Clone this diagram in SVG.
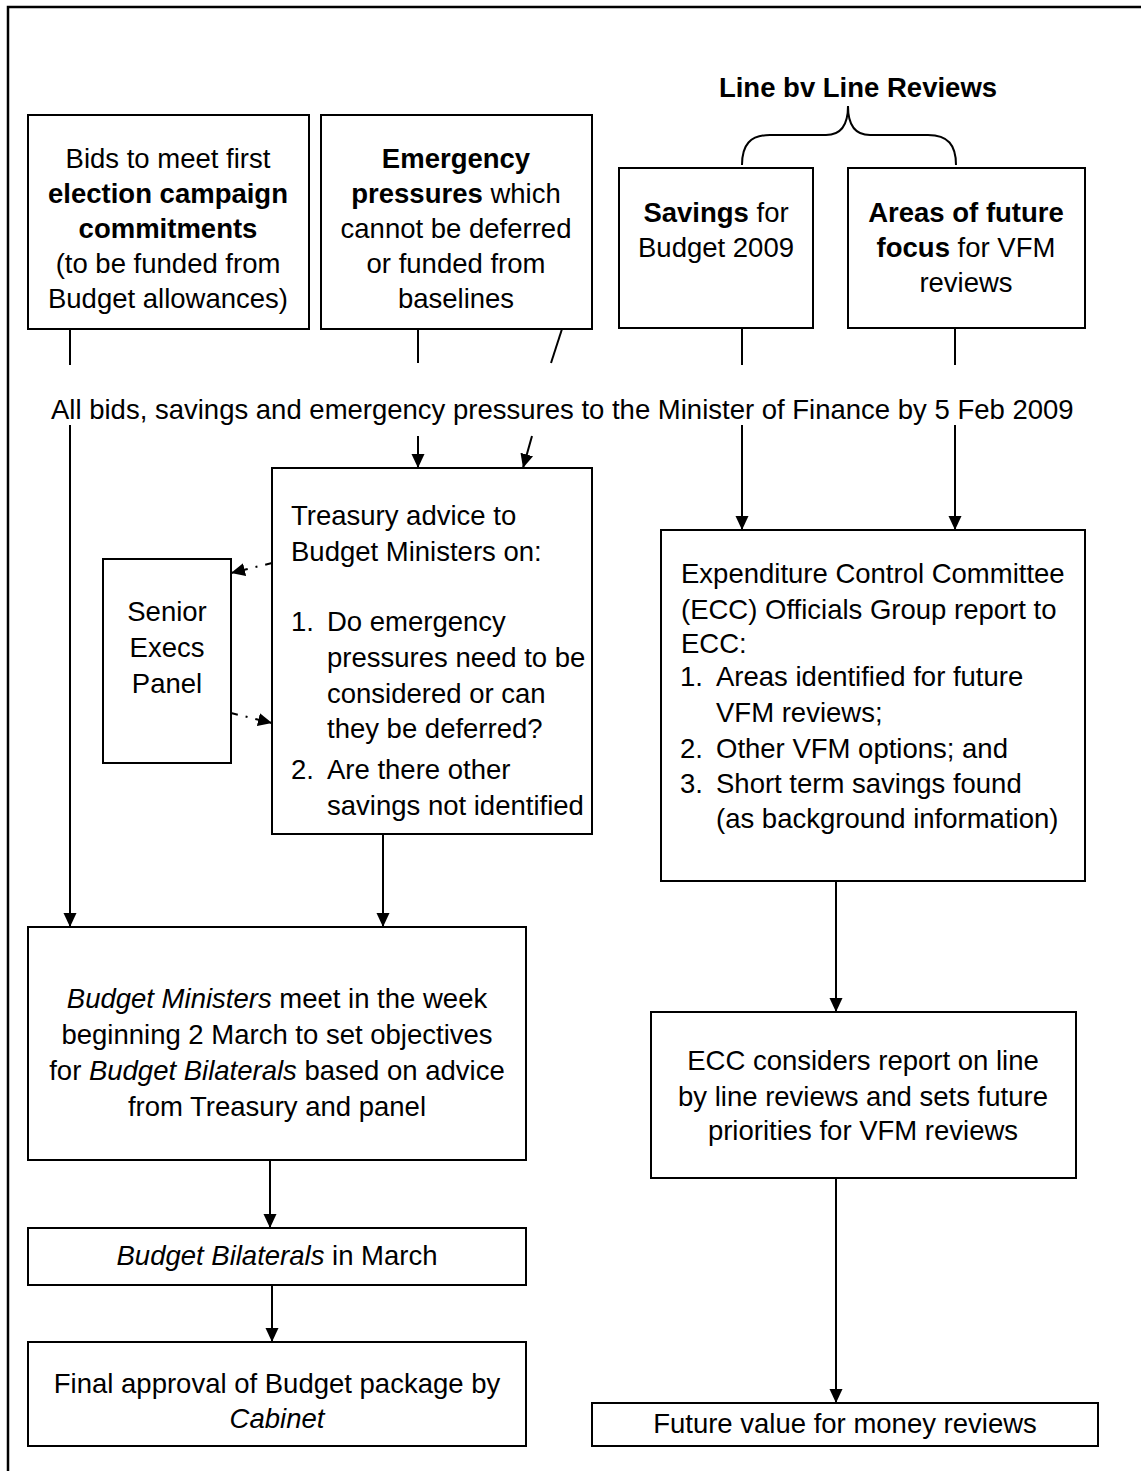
<svg xmlns="http://www.w3.org/2000/svg" width="1141" height="1471" viewBox="0 0 1141 1471">
<style>
.box{fill:#fff;stroke:#000;stroke-width:2}
.ln{fill:none;stroke:#000;stroke-width:2}
.dd{fill:none;stroke:#000;stroke-width:2;stroke-dasharray:7 8 2 8}
text{font-family:"Liberation Sans",Arial,sans-serif;font-size:27.5px;fill:#000}
.c{text-anchor:middle}
.b{font-weight:bold}
.i{font-style:italic}
</style>
<defs>
<marker id="ah" markerUnits="userSpaceOnUse" markerWidth="14" markerHeight="14" refX="14" refY="6.5" orient="auto">
<path d="M0,0 L14,6.5 L0,13 z" fill="#000"/>
</marker>
</defs>
<rect width="1141" height="1471" fill="#fff"/>
<rect x="8" y="7" width="1200" height="1500" fill="none" stroke="#000" stroke-width="2.5"/>

<g id="title">
<text class="c b" x="858" y="97">Line bv Line Reviews</text>
<path class="ln" d="M742,165 C742,145 750,135 770,135 L826,135 C841,135 848,125 848,106 C848,125 855,135 870,135 L928,135 C948,135 956,145 956,165"/>
</g>

<g id="bids">
<rect class="box" x="28" y="115" width="281" height="214"/>
<text class="c" x="168" y="168">Bids to meet first</text>
<text class="c b" x="168" y="203">election campaign</text>
<text class="c b" x="168" y="238">commitments</text>
<text class="c" x="168" y="273">(to be funded from</text>
<text class="c" x="168" y="308">Budget allowances)</text>
</g>

<g id="emergency">
<rect class="box" x="321" y="115" width="271" height="214"/>
<text class="c b" x="456" y="168">Emergency</text>
<text class="c" x="456" y="203"><tspan class="b">pressures</tspan> which</text>
<text class="c" x="456" y="238">cannot be deferred</text>
<text class="c" x="456" y="273">or funded from</text>
<text class="c" x="456" y="308">baselines</text>
</g>

<g id="savings">
<rect class="box" x="619" y="168" width="194" height="160"/>
<text class="c" x="716" y="222"><tspan class="b">Savings</tspan> for</text>
<text class="c" x="716" y="257">Budget 2009</text>
</g>

<g id="areas">
<rect class="box" x="848" y="168" width="237" height="160"/>
<text class="c b" x="966" y="222">Areas of future</text>
<text class="c" x="966" y="257"><tspan class="b">focus</tspan> for VFM</text>
<text class="c" x="966" y="292">reviews</text>
</g>

<g id="allbids">
<text x="51" y="419">All bids, savings and emergency pressures to the Minister of Finance by 5 Feb 2009</text>
</g>

<g id="treasury">
<rect class="box" x="272" y="468" width="320" height="366"/>
<text x="291" y="525">Treasury advice to</text>
<text x="291" y="561">Budget Ministers on:</text>
<text x="291" y="631">1.</text>
<text x="327" y="631">Do emergency</text>
<text x="327" y="667">pressures need to be</text>
<text x="327" y="703">considered or can</text>
<text x="327" y="738">they be deferred?</text>
<text x="291" y="779">2.</text>
<text x="327" y="779">Are there other</text>
<text x="327" y="815">savings not identified</text>
</g>

<g id="senior">
<rect class="box" x="103" y="559" width="128" height="204"/>
<text class="c" x="167" y="621">Senior</text>
<text class="c" x="167" y="657">Execs</text>
<text class="c" x="167" y="693">Panel</text>
</g>

<g id="ecc">
<rect class="box" x="661" y="530" width="424" height="351"/>
<text x="681" y="583">Expenditure Control Committee</text>
<text x="681" y="619">(ECC) Officials Group report to</text>
<text x="681" y="653">ECC:</text>
<text x="680" y="686">1.</text>
<text x="716" y="686">Areas identified for future</text>
<text x="716" y="722">VFM reviews;</text>
<text x="680" y="758">2.</text>
<text x="716" y="758">Other VFM options; and</text>
<text x="680" y="793">3.</text>
<text x="716" y="793">Short term savings found</text>
<text x="716" y="828">(as background information)</text>
</g>

<g id="ministers">
<rect class="box" x="28" y="927" width="498" height="233"/>
<text class="c" x="277" y="1008"><tspan class="i">Budget Ministers</tspan> meet in the week</text>
<text class="c" x="277" y="1044">beginning 2 March to set objectives</text>
<text class="c" x="277" y="1080">for <tspan class="i">Budget Bilaterals</tspan> based on advice</text>
<text class="c" x="277" y="1116">from Treasury and panel</text>
</g>

<g id="bilaterals">
<rect class="box" x="28" y="1228" width="498" height="57"/>
<text class="c" x="277" y="1265"><tspan class="i">Budget Bilaterals</tspan> in March</text>
</g>

<g id="final">
<rect class="box" x="28" y="1342" width="498" height="104"/>
<text class="c" x="277" y="1393">Final approval of Budget package by</text>
<text class="c i" x="277" y="1428">Cabinet</text>
</g>

<g id="eccconsiders">
<rect class="box" x="651" y="1012" width="425" height="166"/>
<text class="c" x="863" y="1070">ECC considers report on line</text>
<text class="c" x="863" y="1106">by line reviews and sets future</text>
<text class="c" x="863" y="1140">priorities for VFM reviews</text>
</g>

<g id="future">
<rect class="box" x="592" y="1403" width="506" height="43"/>
<text class="c" x="845" y="1433">Future value for money reviews</text>
</g>

<g id="connectors">
<line class="ln" x1="70" y1="329" x2="70" y2="365"/>
<line class="ln" x1="418" y1="329" x2="418" y2="363"/>
<line class="ln" x1="562" y1="329" x2="551" y2="363"/>
<line class="ln" x1="742" y1="328" x2="742" y2="365"/>
<line class="ln" x1="955" y1="328" x2="955" y2="365"/>
<line class="ln" x1="70" y1="425" x2="70" y2="927" marker-end="url(#ah)"/>
<line class="ln" x1="418" y1="436" x2="418" y2="468" marker-end="url(#ah)"/>
<line class="ln" x1="532" y1="436" x2="523" y2="468" marker-end="url(#ah)"/>
<line class="ln" x1="742" y1="425" x2="742" y2="530" marker-end="url(#ah)"/>
<line class="ln" x1="955" y1="425" x2="955" y2="530" marker-end="url(#ah)"/>
<line class="dd" x1="272" y1="563" x2="231" y2="573" marker-end="url(#ah)"/>
<line class="dd" x1="231" y1="713" x2="272" y2="723" marker-end="url(#ah)"/>
<line class="ln" x1="383" y1="834" x2="383" y2="927" marker-end="url(#ah)"/>
<line class="ln" x1="270" y1="1160" x2="270" y2="1228" marker-end="url(#ah)"/>
<line class="ln" x1="272" y1="1285" x2="272" y2="1342" marker-end="url(#ah)"/>
<line class="ln" x1="836" y1="881" x2="836" y2="1012" marker-end="url(#ah)"/>
<line class="ln" x1="836" y1="1178" x2="836" y2="1403" marker-end="url(#ah)"/>
</g>
</svg>
